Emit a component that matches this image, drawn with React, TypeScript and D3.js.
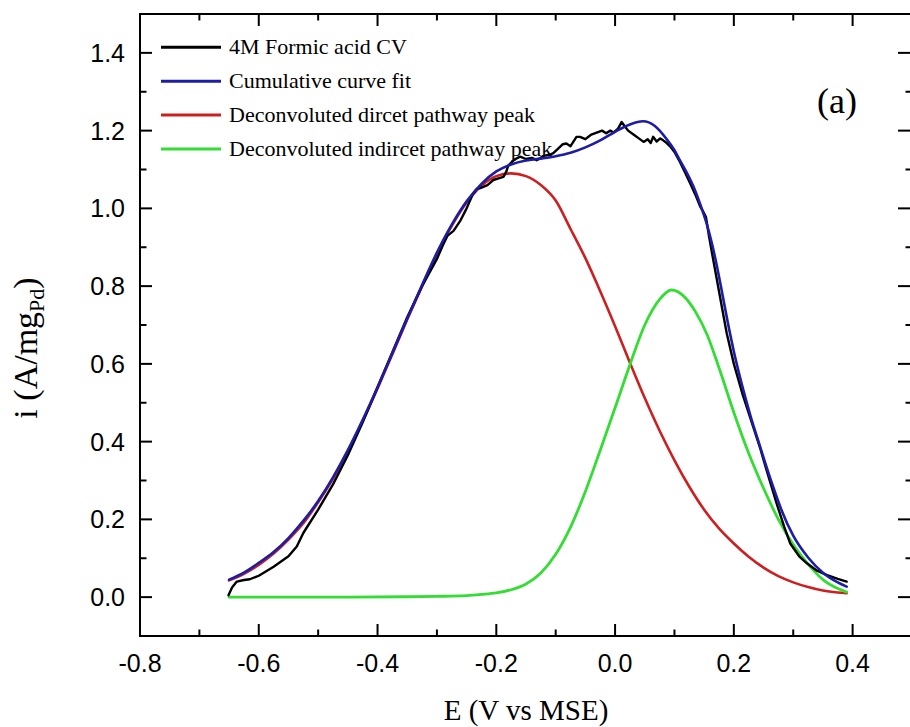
import React from "react";
import * as d3 from "d3";

// ---------- data ----------
const xMajorTicks = [-0.8, -0.6, -0.4, -0.2, 0.0, 0.2, 0.4];
const xMinorTicks = [-0.7, -0.5, -0.3, -0.1, 0.1, 0.3];
const yMajorTicks = [0.0, 0.2, 0.4, 0.6, 0.8, 1.0, 1.2, 1.4];
const yMinorTicks = [0.1, 0.3, 0.5, 0.7, 0.9, 1.1, 1.3];

const legendLabels = [
  "4M Formic acid CV",
  "Cumulative curve fit",
  "Deconvoluted dircet pathway peak",
  "Deconvoluted indircet pathway peak",
];

// 4M Formic acid CV (measured, noisy)
const cvData: [number, number][] = [
  [-0.651, 0.005], [-0.645, 0.025], [-0.637, 0.04], [-0.625, 0.044], [-0.615, 0.046],
  [-0.6, 0.055], [-0.575, 0.078], [-0.55, 0.105], [-0.536, 0.13], [-0.525, 0.165],
  [-0.5, 0.225], [-0.475, 0.29], [-0.45, 0.365], [-0.425, 0.45], [-0.4, 0.54],
  [-0.375, 0.63], [-0.35, 0.72], [-0.325, 0.8], [-0.3, 0.87], [-0.29, 0.905],
  [-0.282, 0.93], [-0.272, 0.942], [-0.26, 0.97], [-0.25, 1.0], [-0.24, 1.035],
  [-0.233, 1.05], [-0.227, 1.052], [-0.215, 1.06], [-0.205, 1.073], [-0.195, 1.078],
  [-0.188, 1.081], [-0.183, 1.095], [-0.18, 1.11], [-0.17, 1.125], [-0.16, 1.133],
  [-0.15, 1.127], [-0.14, 1.13], [-0.132, 1.124], [-0.12, 1.135], [-0.11, 1.138],
  [-0.104, 1.142], [-0.095, 1.155], [-0.088, 1.165], [-0.082, 1.167], [-0.075, 1.16],
  [-0.065, 1.184], [-0.059, 1.184], [-0.05, 1.178], [-0.04, 1.19], [-0.031, 1.195],
  [-0.022, 1.2], [-0.015, 1.193], [-0.008, 1.2], [-0.003, 1.195], [0.005, 1.205],
  [0.011, 1.222], [0.016, 1.212], [0.022, 1.2], [0.031, 1.19], [0.04, 1.18],
  [0.048, 1.171], [0.055, 1.178], [0.06, 1.168], [0.064, 1.184], [0.07, 1.172],
  [0.076, 1.18], [0.081, 1.175], [0.087, 1.168], [0.093, 1.159], [0.1, 1.145],
  [0.109, 1.12], [0.118, 1.092], [0.126, 1.066], [0.135, 1.036], [0.143, 1.006],
  [0.149, 0.99], [0.153, 0.978], [0.158, 0.93], [0.165, 0.87], [0.172, 0.812],
  [0.18, 0.745], [0.188, 0.679], [0.2, 0.6], [0.215, 0.52], [0.23, 0.45],
  [0.245, 0.38], [0.255, 0.327], [0.272, 0.241], [0.285, 0.18], [0.295, 0.138],
  [0.31, 0.105], [0.323, 0.087], [0.34, 0.068], [0.356, 0.057], [0.375, 0.047],
  [0.39, 0.04],
];

// Cumulative curve fit
const fitData: [number, number][] = [
  [-0.65, 0.045], [-0.625, 0.063], [-0.6, 0.088], [-0.575, 0.116], [-0.55, 0.152],
  [-0.525, 0.196], [-0.5, 0.247], [-0.475, 0.308], [-0.45, 0.378], [-0.425, 0.456],
  [-0.4, 0.54], [-0.375, 0.628], [-0.35, 0.717], [-0.325, 0.803], [-0.3, 0.886],
  [-0.275, 0.958], [-0.25, 1.018], [-0.225, 1.063], [-0.2, 1.095], [-0.175, 1.113],
  [-0.15, 1.123], [-0.125, 1.128], [-0.1, 1.134], [-0.075, 1.143], [-0.05, 1.157],
  [-0.025, 1.175], [0.0, 1.197], [0.025, 1.216], [0.047, 1.224], [0.067, 1.212],
  [0.087, 1.178], [0.1, 1.15], [0.109, 1.124], [0.12, 1.094], [0.132, 1.056],
  [0.143, 1.012], [0.154, 0.962], [0.163, 0.91], [0.171, 0.855], [0.18, 0.785],
  [0.19, 0.705], [0.2, 0.632], [0.21, 0.568], [0.22, 0.51], [0.23, 0.456],
  [0.242, 0.398], [0.255, 0.335], [0.267, 0.28], [0.28, 0.225], [0.3, 0.158],
  [0.325, 0.102], [0.35, 0.063], [0.375, 0.038], [0.39, 0.027],
];

// Deconvoluted direct pathway peak
const directData: [number, number][] = [
  [-0.65, 0.043], [-0.625, 0.06], [-0.6, 0.083], [-0.575, 0.112], [-0.55, 0.148],
  [-0.525, 0.19], [-0.5, 0.244], [-0.475, 0.305], [-0.45, 0.375], [-0.425, 0.453],
  [-0.4, 0.537], [-0.375, 0.625], [-0.35, 0.714], [-0.325, 0.8], [-0.3, 0.883],
  [-0.275, 0.955], [-0.25, 1.015], [-0.225, 1.058], [-0.2, 1.083], [-0.175, 1.09],
  [-0.15, 1.083], [-0.125, 1.06], [-0.1, 1.02], [-0.075, 0.947], [-0.05, 0.872],
  [-0.025, 0.787], [0.0, 0.697], [0.025, 0.603], [0.05, 0.512], [0.075, 0.428],
  [0.1, 0.352], [0.125, 0.284], [0.15, 0.225], [0.175, 0.177], [0.2, 0.138],
  [0.225, 0.104], [0.25, 0.076], [0.275, 0.054], [0.3, 0.038], [0.325, 0.026],
  [0.35, 0.017], [0.375, 0.012], [0.39, 0.01],
];

// Deconvoluted indirect pathway peak
const indirectData: [number, number][] = [
  [-0.65, 0.0], [-0.55, 0.0], [-0.45, 0.0], [-0.35, 0.001], [-0.3, 0.002],
  [-0.25, 0.004], [-0.225, 0.007], [-0.2, 0.011], [-0.175, 0.019], [-0.15, 0.034],
  [-0.125, 0.062], [-0.1, 0.11], [-0.075, 0.18], [-0.05, 0.272], [-0.025, 0.378],
  [0.0, 0.487], [0.025, 0.598], [0.05, 0.7], [0.075, 0.766], [0.095, 0.79],
  [0.115, 0.775], [0.135, 0.735], [0.155, 0.675], [0.175, 0.59], [0.2, 0.475],
  [0.225, 0.37], [0.25, 0.28], [0.275, 0.2], [0.3, 0.135], [0.325, 0.085],
  [0.35, 0.045], [0.375, 0.022], [0.39, 0.013],
];

const seriesColors = ["#000000", "#1c1ca6", "#cc2020", "#33dd33"];

// ---------- layout ----------
const W = 910;
const H = 727;
const left = 140;
const right = 912;
const top = 14;
const bottom = 636;

const serif = "'Liberation Serif', 'Times New Roman', Times, serif";
const sans = "'Liberation Sans', Arial, Helvetica, sans-serif";

const fmt = (v: number) => {
  const s = Math.abs(v).toFixed(1);
  return v < -1e-9 ? "-" + s : s;
};

export default function App() {
  const x = d3.scaleLinear().domain([-0.8, 0.5]).range([left, right]);
  const y = d3.scaleLinear().domain([-0.1, 1.5]).range([bottom, top]);

  const smooth = d3
    .line<[number, number]>()
    .x((d) => x(d[0]))
    .y((d) => y(d[1]))
    .curve(d3.curveMonotoneX);
  const jagged = d3
    .line<[number, number]>()
    .x((d) => x(d[0]))
    .y((d) => y(d[1]))
    .curve(d3.curveLinear);

  const majorLen = 12;
  const minorLen = 6.5;

  const legendY0 = 47.3;
  const legendDy = 33.9;

  return (
    <svg
      width={W}
      height={H}
      style={{ position: "absolute", left: 0, top: 0, background: "#fff" }}
    >
      <rect x={0} y={0} width={W} height={H} fill="#fff" />

      {/* curves */}
      <g fill="none" strokeLinejoin="round" strokeLinecap="round">
        <path d={smooth(directData) || ""} stroke={seriesColors[2]} strokeWidth={2.6} />
        <path d={smooth(indirectData) || ""} stroke={seriesColors[3]} strokeWidth={2.8} />
        <path d={jagged(cvData) || ""} stroke={seriesColors[0]} strokeWidth={2.4} />
        <path d={smooth(fitData) || ""} stroke={seriesColors[1]} strokeWidth={2.6} />
      </g>

      {/* frame */}
      <rect
        x={left}
        y={top}
        width={right - left}
        height={bottom - top}
        fill="none"
        stroke="#000"
        strokeWidth={2}
      />

      {/* ticks (all four sides, inward) */}
      <g stroke="#000" strokeWidth={2}>
        {xMajorTicks.map((t) => (
          <g key={"xM" + t}>
            <line x1={x(t)} x2={x(t)} y1={bottom} y2={bottom - majorLen} />
            <line x1={x(t)} x2={x(t)} y1={top} y2={top + majorLen} />
          </g>
        ))}
        {xMinorTicks.map((t) => (
          <g key={"xm" + t}>
            <line x1={x(t)} x2={x(t)} y1={bottom} y2={bottom - minorLen} />
            <line x1={x(t)} x2={x(t)} y1={top} y2={top + minorLen} />
          </g>
        ))}
        {yMajorTicks.map((t) => (
          <g key={"yM" + t}>
            <line x1={left} x2={left + majorLen} y1={y(t)} y2={y(t)} />
            <line x1={right} x2={right - majorLen - 2} y1={y(t)} y2={y(t)} />
          </g>
        ))}
        {yMinorTicks.map((t) => (
          <g key={"ym" + t}>
            <line x1={left} x2={left + minorLen} y1={y(t)} y2={y(t)} />
            <line x1={right} x2={right - minorLen} y1={y(t)} y2={y(t)} />
          </g>
        ))}
      </g>

      {/* tick labels */}
      <g fontFamily={sans} fontSize={25} fill="#000">
        {xMajorTicks.map((t) => (
          <text key={"xl" + t} x={x(t)} y={672} textAnchor="middle">
            {fmt(t)}
          </text>
        ))}
        {yMajorTicks.map((t) => (
          <text key={"yl" + t} x={125} y={y(t) + 9} textAnchor="end">
            {fmt(t)}
          </text>
        ))}
      </g>

      {/* axis titles */}
      <text
        x={526}
        y={720}
        textAnchor="middle"
        fontFamily={serif}
        fontSize={29}
        fill="#000"
      >
        E (V vs MSE)
      </text>
      <text
        transform="rotate(-90)"
        x={-348}
        y={37}
        textAnchor="middle"
        fontFamily={serif}
        fontSize={34}
        fill="#000"
      >
        i (A/mg
        <tspan fontSize={22} dy={7}>
          Pd
        </tspan>
        <tspan dy={-7}>)</tspan>
      </text>

      {/* panel label */}
      <text x={837} y={113} textAnchor="middle" fontFamily={serif} fontSize={36} fill="#000">
        (a)
      </text>

      {/* legend */}
      <g>
        {legendLabels.map((lab, i) => {
          const ly = legendY0 + i * legendDy;
          return (
            <g key={lab}>
              <line
                x1={161}
                x2={221}
                y1={ly}
                y2={ly}
                stroke={seriesColors[i]}
                strokeWidth={3}
              />
              <text x={229} y={ly + 7} fontFamily={serif} fontSize={22} fill="#000">
                {lab}
              </text>
            </g>
          );
        })}
      </g>
    </svg>
  );
}
